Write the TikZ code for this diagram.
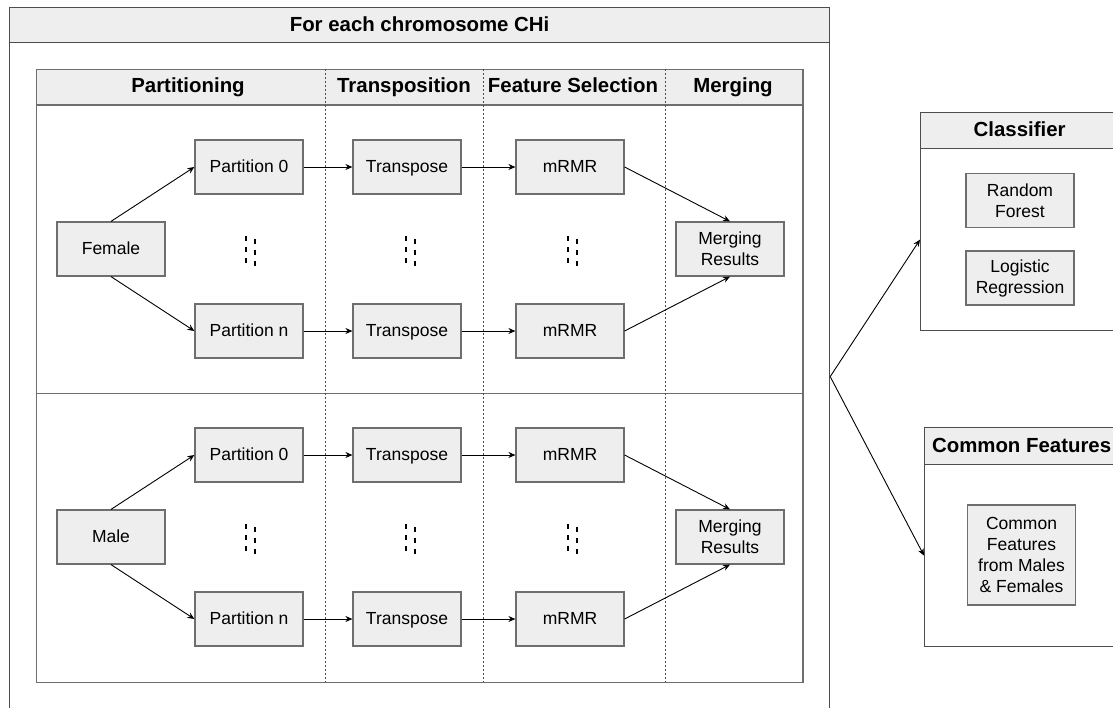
\documentclass[tikz,border=0pt]{standalone}
\usepackage{fontspec}
\setmainfont{Liberation Sans}
\usetikzlibrary{arrows.meta,positioning}
\definecolor{boxfill}{RGB}{238,238,238}
\definecolor{boxline}{RGB}{110,110,110}
\definecolor{frameline}{RGB}{77,77,77}
\newcommand{\txtfont}{\fontsize{17.5}{21}\selectfont}
\newcommand{\hdrfont}{\fontsize{20.4}{24}\selectfont\bfseries}

\begin{document}
\begin{tikzpicture}[x=1pt,y=-1pt,
  box/.style={draw=boxline,fill=boxfill,line width=1.2pt,minimum width=108pt,
    minimum height=54pt,inner sep=0pt,align=center,font=\txtfont},
  oneline/.style={text height=12.6pt,text depth=2pt},
  hdr/.style={draw=frameline,fill=boxfill,line width=1.2pt,inner sep=0pt,
    font=\hdrfont,anchor=north west,text height=14.7pt,text depth=2.6pt},
  frm/.style={draw=frameline,line width=1.2pt,inner sep=0pt,anchor=north west},
  lbl/.style={font=\hdrfont,text height=14.7pt,text depth=2.6pt},
  flow/.style={draw=black,line width=0.9pt,-{Stealth[length=7pt,width=6pt]}},
  divider/.style={draw=frameline,line width=0.9pt,dash pattern=on 2pt off 2pt},
  gapdash/.style={draw=black,line width=1.8pt,dash pattern=on 5pt off 6pt}]
  \useasboundingbox (0,0) rectangle (1113,707);
  \clip (0,0) rectangle (1113,707);
  % outer frame, runs past the bottom edge
  \node[frm,minimum width=820pt,minimum height=738pt] (chrom) at (9,7) {};
  \node[hdr,minimum width=820pt,minimum height=35pt] (chromhead) at (9,7)
    {For each chromosome CHi};
  % stage table
  \node[frm,draw=boxline,minimum width=766.6pt,minimum height=612.7pt] (tab) at (35.7,69) {};
  \node[hdr,draw=boxline,minimum width=766.6pt,minimum height=35.3pt] (tabhead) at (35.7,69) {};
  \draw[boxline,line width=1.2pt] (35.7,393.3) -- (802.3,393.3);
  \foreach \x in {325,483.3,665}
    \draw[divider] (\x,69) -- (\x,681.7);
  \node[lbl] (hpart)  at (188,86.7) {Partitioning};
  \node[lbl] (htrans) at (404,86.7) {Transposition};
  \node[lbl] (hfeat)  at (573,86.7) {Feature Selection};
  \node[lbl] (hmerge) at (733,86.7) {Merging};
  % female half
  \node[box,oneline] (fem) at (111,249) {Female};
  \node[box,oneline] (p0f) at (249,167) {Partition 0};
  \node[box,oneline] (pnf) at (249,331) {Partition n};
  \node[box,oneline] (t0f) at (407,167) {Transpose};
  \node[box,oneline] (tnf) at (407,331) {Transpose};
  \node[box,oneline] (m0f) at (570,167) {mRMR};
  \node[box,oneline] (mnf) at (570,331) {mRMR};
  \node[box] (mrf) at (730,249) {Merging\\Results};
  \draw[flow] (fem.north) -- (p0f.west);
  \draw[flow] (fem.south) -- (pnf.west);
  \draw[flow] (p0f) -- (t0f);
  \draw[flow] (pnf) -- (tnf);
  \draw[flow] (t0f) -- (m0f);
  \draw[flow] (tnf) -- (mnf);
  \draw[flow] (m0f.east) -- (mrf.north);
  \draw[flow] (mnf.east) -- (mrf.south);
  % male half
  \node[box,oneline] (male) at (111,537) {Male};
  \node[box,oneline] (p0m) at (249,455) {Partition 0};
  \node[box,oneline] (pnm) at (249,619) {Partition n};
  \node[box,oneline] (t0m) at (407,455) {Transpose};
  \node[box,oneline] (tnm) at (407,619) {Transpose};
  \node[box,oneline] (m0m) at (570,455) {mRMR};
  \node[box,oneline] (mnm) at (570,619) {mRMR};
  \node[box] (mrm) at (730,537) {Merging\\Results};
  \draw[flow] (male.north) -- (p0m.west);
  \draw[flow] (male.south) -- (pnm.west);
  \draw[flow] (p0m) -- (t0m);
  \draw[flow] (pnm) -- (tnm);
  \draw[flow] (t0m) -- (m0m);
  \draw[flow] (tnm) -- (mnm);
  \draw[flow] (m0m.east) -- (mrm.north);
  \draw[flow] (mnm.east) -- (mrm.south);
  % gaps between partition 0 and n
  \foreach \x in {246,406,568}
    \foreach \y in {236,524} {
      \draw[gapdash] (\x,\y) -- ++(0,27);
      \draw[gapdash] (\x+9,\y+2.5) -- ++(0,27);
    }
  % classifier
  \node[frm,minimum width=198pt,minimum height=182pt] (clf) at (920,148) {};
  \node[hdr,minimum width=198pt,minimum height=36pt] (clfhead) at (920,112) {Classifier};
  \node[box] (rf) at (1020,200.5) {Random\\Forest};
  \node[box] (lr) at (1020,278) {Logistic\\Regression};
  % common features
  \node[frm,minimum width=194pt,minimum height=182pt] (cf) at (924,464) {};
  \node[hdr,minimum width=194pt,minimum height=37pt] (cfhead) at (924,427) {Common Features};
  \node[box,minimum height=100pt] (cfbox) at (1021.5,555)
    {Common\\Features\\from Males\\\& Females};
  \draw[flow] (chrom.east) -- (clf.west);
  \draw[flow] (chrom.east) -- (cf.west);
\end{tikzpicture}
\end{document}
